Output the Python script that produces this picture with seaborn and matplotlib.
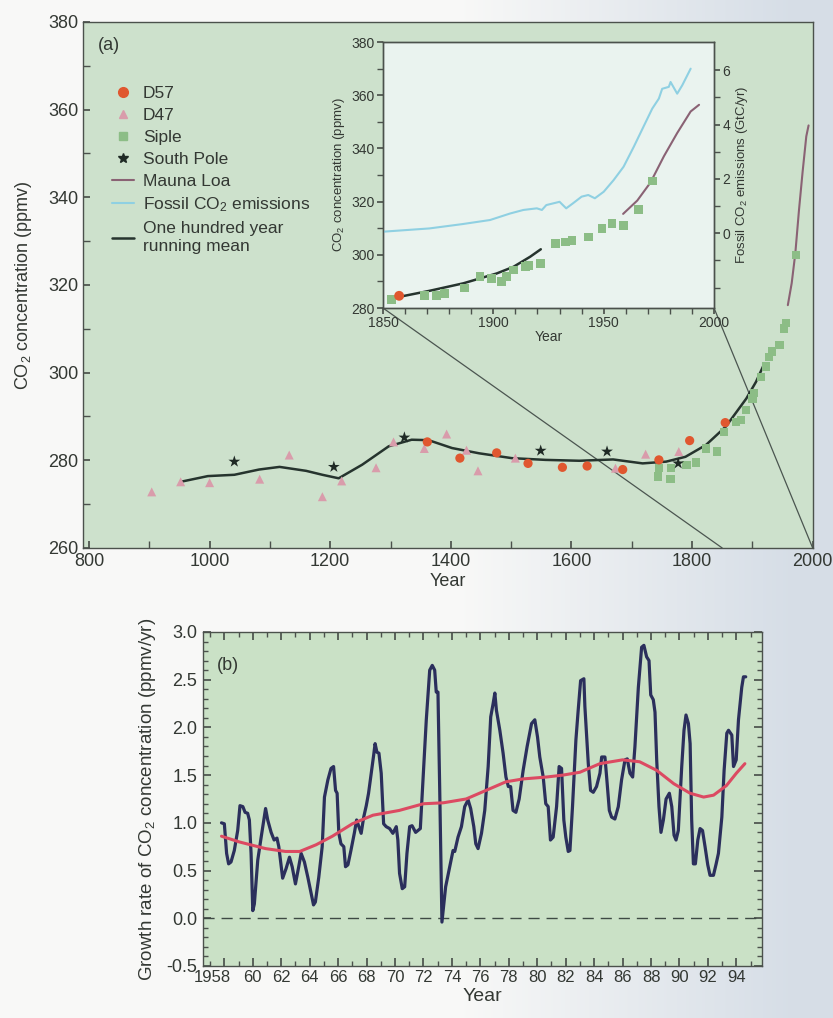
import numpy as np
import matplotlib
matplotlib.use('Agg')
import matplotlib.pyplot as plt
import matplotlib.transforms as mtransforms
from matplotlib.lines import Line2D
from matplotlib.patches import ConnectionPatch
from matplotlib.ticker import MultipleLocator, FixedLocator
import seaborn as sns

sns.set_theme(style="ticks")
plt.rcParams['font.family'] = ['Liberation Sans', 'DejaVu Sans']
plt.rcParams['mathtext.default'] = 'regular'

# ---- panel (a): ice core records ----
d57_year = [1361, 1415, 1476, 1528, 1585, 1626, 1685, 1745, 1796, 1855]
d57_ppm = [284.2, 280.5, 281.7, 279.3, 278.4, 278.7, 277.9, 280.1, 284.5, 288.6]

d47_year = [904, 952, 1000, 1083, 1132, 1187, 1219, 1276, 1305, 1356, 1393,
            1426, 1445, 1507, 1673, 1723, 1778]
d47_ppm = [272.8, 275.1, 274.9, 275.7, 281.2, 271.7, 275.3, 278.3, 284.2, 282.7,
           286.0, 282.3, 277.6, 280.5, 278.2, 281.4, 282.0]

siple_year = [1744, 1745, 1764, 1765, 1791, 1806, 1823, 1841, 1853, 1873, 1881,
              1889, 1900, 1903, 1914, 1923, 1928, 1933, 1945, 1953, 1956, 1972.6]
siple_ppm = [276.3, 278.2, 275.7, 278.2, 278.9, 279.5, 282.7, 282.0, 286.5, 288.8,
             289.2, 291.5, 294.1, 295.3, 299.0, 301.4, 303.6, 304.8, 306.3, 310.1,
             311.3, 326.8]

spole_year = [1041, 1206, 1323, 1549, 1659, 1777]
spole_ppm = [279.7, 278.5, 285.2, 282.2, 282.0, 279.3]

mean_year = [952, 997, 1041, 1082, 1116, 1160, 1187, 1214, 1253, 1297, 1335, 1363,
             1402, 1447, 1501, 1557, 1613, 1669, 1718, 1757, 1789, 1823, 1856,
             1890, 1906, 1920]
mean_ppm = [275.1, 276.4, 276.7, 277.9, 278.5, 277.6, 276.7, 275.9, 279.0, 283.2,
            284.7, 284.6, 282.8, 281.6, 280.5, 280.1, 279.9, 280.2, 279.3, 279.7,
            280.8, 283.5, 287.7, 294.1, 297.9, 302.1]

mlo_year = [1958.8, 1965.2, 1971.2, 1977.3, 1983.3, 1989.4, 1993.2]
mlo_ppm = [315.4, 320.4, 327.2, 337.1, 345.8, 353.9, 356.4]

# ---- inset: 1850-2000 ----
siple_in_year = [1853.8, 1868.9, 1874.2, 1878.0, 1887.1, 1893.9, 1899.2, 1903.8,
                 1905.8, 1909.1, 1914.4, 1915.9, 1921.2, 1928.0, 1932.6, 1935.6,
                 1943.2, 1949.2, 1953.8, 1958.8, 1965.9, 1972.0]
siple_in_ppm = [283.1, 284.6, 284.6, 285.5, 287.5, 292.0, 291.2, 289.9, 291.8,
                294.3, 295.5, 296.1, 296.8, 304.2, 304.8, 305.5, 306.7, 309.8,
                311.7, 311.1, 317.0, 327.8]
d57_in_year = [1857.3]
d57_in_ppm = [284.6]
mean_in_year = [1856.1, 1871.2, 1886.4, 1901.5, 1909.1, 1916.7, 1921.5]
mean_in_ppm = [284.0, 286.5, 289.3, 293.0, 295.5, 299.3, 302.1]

fossil_year = [1850, 1871, 1886, 1898.5, 1907.6, 1913.6, 1919.7, 1922, 1924, 1930,
               1933, 1936, 1940, 1943, 1946, 1950, 1954.5, 1959, 1963.6, 1968,
               1972, 1975, 1976.5, 1979.5, 1980.3, 1983.3, 1985.6, 1989.4]
fossil_gtc = [0.06, 0.18, 0.34, 0.49, 0.73, 0.86, 0.92, 0.86, 1.04, 1.16, 0.92,
              1.10, 1.35, 1.41, 1.29, 1.53, 1.96, 2.45, 3.18, 3.92, 4.59, 4.96,
              5.32, 5.39, 5.57, 5.14, 5.45, 6.06]

# ---- panel (b): growth rate ----
gr_year = [1957.8, 1958.0, 1958.16, 1958.3, 1958.47, 1958.7, 1958.94, 1959.1, 1959.3,
           1959.46, 1959.64, 1959.76, 1959.88, 1960.0, 1960.11, 1960.35, 1960.58,
           1960.9, 1961.05, 1961.29, 1961.5, 1961.7, 1961.83, 1962.1, 1962.34,
           1962.58, 1962.77, 1963.0, 1963.23, 1963.4, 1963.63, 1963.87, 1964.1,
           1964.27, 1964.4, 1964.64, 1964.88, 1965.04, 1965.28, 1965.5, 1965.68,
           1965.82, 1965.93, 1966.05, 1966.2, 1966.4, 1966.52, 1966.69, 1966.9,
           1967.15, 1967.3, 1967.46, 1967.62, 1967.8, 1967.98, 1968.14, 1968.33,
           1968.5, 1968.6, 1968.73, 1968.87, 1969.03, 1969.2, 1969.38, 1969.62,
           1969.85, 1970.09, 1970.2, 1970.32, 1970.51, 1970.68, 1970.84, 1971.03,
           1971.2, 1971.45, 1971.78, 1971.97, 1972.2, 1972.44, 1972.62, 1972.79,
           1972.9, 1973.02, 1973.14, 1973.3, 1973.56, 1973.85, 1974.08, 1974.2,
           1974.43, 1974.67, 1974.9, 1975.14, 1975.32, 1975.54, 1975.68, 1975.84,
           1976.08, 1976.31, 1976.55, 1976.73, 1976.9, 1977.02, 1977.13, 1977.37,
           1977.6, 1977.8, 1977.97, 1978.13, 1978.3, 1978.5, 1978.73, 1979.01,
           1979.29, 1979.6, 1979.83, 1980.02, 1980.18, 1980.42, 1980.6, 1980.77,
           1980.93, 1981.12, 1981.36, 1981.54, 1981.71, 1981.87, 1982.01, 1982.18,
           1982.3, 1982.48, 1982.72, 1982.88, 1983.05, 1983.28, 1983.35, 1983.59,
           1983.75, 1983.94, 1984.17, 1984.41, 1984.53, 1984.76, 1984.88, 1985.07,
           1985.23, 1985.46, 1985.7, 1985.93, 1986.17, 1986.33, 1986.52, 1986.71,
           1986.87, 1987.11, 1987.34, 1987.5, 1987.69, 1987.86, 1987.98, 1988.16,
           1988.28, 1988.4, 1988.56, 1988.7, 1988.87, 1989.06, 1989.29, 1989.46,
           1989.62, 1989.76, 1989.92, 1990.16, 1990.32, 1990.46, 1990.63, 1990.75,
           1990.86, 1990.98, 1991.12, 1991.29, 1991.45, 1991.62, 1991.8, 1991.99,
           1992.15, 1992.39, 1992.58, 1992.74, 1992.98, 1993.14, 1993.33, 1993.45,
           1993.68, 1993.8, 1993.99, 1994.15, 1994.38, 1994.5, 1994.66]
gr_rate = [1.00, 0.99, 0.68, 0.57, 0.59, 0.71, 0.92, 1.18, 1.17, 1.11, 1.10, 1.03,
           0.68, 0.08, 0.15, 0.61, 0.84, 1.15, 1.03, 0.90, 0.82, 0.84, 0.75, 0.42,
           0.52, 0.64, 0.54, 0.36, 0.54, 0.68, 0.59, 0.43, 0.26, 0.14, 0.17, 0.43,
           0.75, 1.27, 1.45, 1.57, 1.59, 1.34, 1.31, 0.89, 0.78, 0.75, 0.54, 0.56,
           0.71, 0.90, 1.03, 0.96, 0.89, 1.06, 1.18, 1.31, 1.52, 1.71, 1.83, 1.74,
           1.73, 1.52, 0.99, 0.96, 0.94, 0.89, 0.96, 0.82, 0.47, 0.31, 0.33, 0.68,
           0.96, 0.97, 0.90, 0.94, 1.45, 2.08, 2.60, 2.65, 2.60, 2.37, 2.37, 1.38,
           -0.04, 0.33, 0.54, 0.71, 0.70, 0.85, 0.96, 1.17, 1.24, 1.15, 0.96, 0.78,
           0.73, 0.89, 1.13, 1.59, 2.11, 2.25, 2.36, 2.18, 1.97, 1.73, 1.48, 1.38,
           1.38, 1.13, 1.11, 1.25, 1.55, 1.80, 2.04, 2.08, 1.90, 1.69, 1.48, 1.20,
           1.17, 0.82, 0.85, 1.17, 1.59, 1.57, 1.03, 0.85, 0.70, 0.71, 1.17, 1.87,
           2.18, 2.49, 2.51, 2.22, 1.62, 1.34, 1.32, 1.38, 1.52, 1.69, 1.69, 1.48,
           1.13, 1.06, 1.04, 1.17, 1.45, 1.66, 1.67, 1.52, 1.48, 1.80, 2.42, 2.84,
           2.86, 2.74, 2.70, 2.34, 2.29, 2.16, 1.66, 1.17, 0.90, 1.03, 1.25, 1.31,
           1.17, 0.87, 0.82, 0.92, 1.59, 1.97, 2.13, 2.04, 1.83, 1.03, 0.57, 0.57,
           0.82, 0.94, 0.92, 0.75, 0.56, 0.45, 0.45, 0.57, 0.68, 1.06, 1.55, 1.94,
           1.97, 1.92, 1.59, 1.66, 2.08, 2.42, 2.53, 2.53]

trend_year = [1957.8, 1959.05, 1960.9, 1962.3, 1963.3, 1964.45, 1965.6, 1967.0,
              1968.45, 1970.3, 1972.0, 1973.4, 1975.0, 1976.4, 1977.8, 1979.0,
              1980.65, 1981.8, 1983.0, 1984.4, 1986.0, 1987.2, 1988.4, 1989.6,
              1990.75, 1991.7, 1992.4, 1993.3, 1994.0, 1994.6]
trend_rate = [0.86, 0.80, 0.73, 0.70, 0.70, 0.77, 0.86, 0.99, 1.08, 1.13, 1.20,
              1.21, 1.25, 1.34, 1.43, 1.46, 1.48, 1.50, 1.53, 1.62, 1.66, 1.64,
              1.55, 1.41, 1.31, 1.27, 1.29, 1.39, 1.52, 1.62]

gr_ticks = list(range(1958, 1995, 2))
gr_ticklabels = ['1958'] + [str(y % 100) for y in gr_ticks[1:]]

# colours
PANEL = '#cde1cc'
PANEL_B = '#cae1c6'
INSET = '#eaf3ef'
SPINE = '#4b514c'
TXT = '#333833'
C_D57 = '#e0572f'
C_D47 = '#d99cab'
C_SIPLE = '#8cbd86'
C_SPOLE = '#1f2a25'
C_MLO = '#8a6274'
C_FOSSIL = '#8fd0e2'
C_MEAN = '#26342e'

fig = plt.figure(figsize=(8.33, 10.18), dpi=100)

# scanned-page style background
bg = fig.add_axes([0, 0, 1, 1], zorder=-10)
gx = np.clip((np.linspace(0, 1, 300) - 0.55) / 0.4, 0, 1)
gy = np.linspace(0, 1, 200)[:, None]
base = np.array([0.975, 0.975, 0.97])
blue = np.array([0.84, 0.87, 0.905])
img = base + (blue - base) * gx[None, :, None] * np.ones_like(gy)[:, :, None]
bg.imshow(img, aspect='auto', extent=[0, 1, 0, 1])
bg.axis('off')


def style_spines(a):
    for s in a.spines.values():
        s.set_color(SPINE)
        s.set_linewidth(1.0)


# ---------------- panel (a) ----------------
ax = fig.add_axes([0.0996, 0.4617, 0.876, 0.5167])
ax.set_facecolor(PANEL)
style_spines(ax)

sns.lineplot(x=mean_year, y=mean_ppm, ax=ax, color=C_MEAN, lw=1.8, estimator=None)
sns.lineplot(x=mlo_year, y=mlo_ppm, ax=ax, color=C_MLO, lw=1.5, estimator=None)
sns.scatterplot(x=siple_year, y=siple_ppm, ax=ax, marker='s', color=C_SIPLE, s=36,
                edgecolor='none', zorder=3)
sns.scatterplot(x=d47_year, y=d47_ppm, ax=ax, marker='^', color=C_D47, s=42,
                edgecolor='none', zorder=3)
sns.scatterplot(x=d57_year, y=d57_ppm, ax=ax, marker='o', color=C_D57, s=44,
                edgecolor='none', zorder=4)
sns.scatterplot(x=spole_year, y=spole_ppm, ax=ax, marker='*', color=C_SPOLE, s=80,
                edgecolor='none', zorder=4)

ax.set_xlim(790, 2000)
ax.set_ylim(260, 380)
ax.xaxis.set_major_locator(MultipleLocator(200))
ax.xaxis.set_minor_locator(MultipleLocator(100))
ax.yaxis.set_major_locator(MultipleLocator(20))
ax.yaxis.set_minor_locator(MultipleLocator(10))
ax.tick_params(which='both', direction='in', colors=SPINE, labelcolor=TXT,
               labelsize=13, length=5)
ax.set_xlabel('Year', fontsize=13, color=TXT, labelpad=2)
ax.set_ylabel('CO$_2$ concentration (ppmv)', fontsize=13, color=TXT, labelpad=10)
ax.text(0.02, 0.955, '(a)', transform=ax.transAxes, fontsize=13, color=TXT,
        va='center')

handles = [
    Line2D([], [], ls='', marker='o', color=C_D57, markersize=7),
    Line2D([], [], ls='', marker='^', color=C_D47, markersize=6),
    Line2D([], [], ls='', marker='s', color=C_SIPLE, markersize=6),
    Line2D([], [], ls='', marker='*', color=C_SPOLE, markersize=7),
    Line2D([], [], color=C_MLO, lw=1.5),
    Line2D([], [], color=C_FOSSIL, lw=1.5),
    Line2D([], [], color=C_MEAN, lw=1.8),
]
labels = ['D57', 'D47', 'Siple', 'South Pole', 'Mauna Loa',
          'Fossil CO$_2$ emissions', 'One hundred year\nrunning mean']
leg = ax.legend(handles, labels, loc='upper left', bbox_to_anchor=(0.03, 0.892),
                frameon=False, fontsize=12.5, handlelength=1.3, handletextpad=0.5,
                labelspacing=0.39, borderaxespad=0)
for t in leg.get_texts():
    t.set_color(TXT)
    t.set_linespacing(1.3)

# ---------------- inset ----------------
axi = fig.add_axes([0.4598, 0.6974, 0.3974, 0.2613])
axi.set_facecolor(INSET)
style_spines(axi)
sns.scatterplot(x=siple_in_year, y=siple_in_ppm, ax=axi, marker='s', color=C_SIPLE,
                s=40, edgecolor='none', zorder=3)
sns.scatterplot(x=d57_in_year, y=d57_in_ppm, ax=axi, marker='o', color=C_D57, s=50,
                edgecolor='none', zorder=4)
sns.lineplot(x=mean_in_year, y=mean_in_ppm, ax=axi, color=C_MEAN, lw=1.8,
             estimator=None)
sns.lineplot(x=mlo_year, y=mlo_ppm, ax=axi, color=C_MLO, lw=1.5, estimator=None)
axi.set_xlim(1850, 2000)
axi.set_ylim(280, 380)
axi.xaxis.set_major_locator(MultipleLocator(50))
axi.xaxis.set_minor_locator(MultipleLocator(10))
axi.yaxis.set_major_locator(MultipleLocator(20))
axi.yaxis.set_minor_locator(MultipleLocator(10))
axi.tick_params(which='both', direction='out', colors=SPINE, labelcolor=TXT,
                labelsize=10, length=4, pad=2)
axi.set_xlabel('Year', fontsize=10, color=TXT, labelpad=0)
axi.set_ylabel('CO$_2$ concentration (ppmv)', fontsize=9.5, color=TXT, labelpad=3)

axr = axi.twinx()
style_spines(axr)
sns.lineplot(x=fossil_year, y=fossil_gtc, ax=axr, color=C_FOSSIL, lw=1.5,
             estimator=None)
axr.set_ylim(-2.75, 7.04)
axr.yaxis.set_major_locator(FixedLocator([0, 2, 4, 6]))
axr.yaxis.set_minor_locator(FixedLocator([-2, -1, 1, 3, 5]))
axr.tick_params(which='both', direction='out', colors=SPINE, labelcolor=TXT,
                labelsize=10, length=4, pad=2)
axr.set_ylabel('Fossil CO$_2$ emissions (GtC/yr)', fontsize=9.5, color=TXT,
               labelpad=3)
axr.grid(False)

# zoom lines from inset to main axis
for yr in (1850, 2000):
    con = ConnectionPatch(xyA=(yr, 280), coordsA=axi.transData,
                          xyB=(yr, 260), coordsB=ax.transData,
                          color='#4b5550', lw=0.9)
    ax.add_artist(con)

# ---------------- panel (b) ----------------
axb = fig.add_axes([0.2437, 0.0511, 0.671, 0.3281])
axb.set_facecolor(PANEL_B)
style_spines(axb)
axb.axhline(0, color='#3e4a44', lw=1.0, dashes=(8, 5))
sns.lineplot(x=gr_year, y=gr_rate, ax=axb, color='#2b2f5c', lw=2.3,
             estimator=None, sort=False)
sns.lineplot(x=trend_year, y=trend_rate, ax=axb, color='#dc4a62', lw=2.2,
             estimator=None)
axb.set_xlim(1956.5, 1995.8)
axb.set_ylim(-0.5, 3.0)
axb.set_xticks(gr_ticks)
axb.set_xticklabels(gr_ticklabels)
axb.xaxis.set_minor_locator(MultipleLocator(1))
axb.yaxis.set_major_locator(MultipleLocator(0.5))
axb.yaxis.set_minor_locator(MultipleLocator(0.1))
axb.yaxis.set_major_formatter(matplotlib.ticker.FormatStrFormatter('%.1f'))
axb.tick_params(which='both', direction='in', top=True, right=True,
                colors=SPINE, labelcolor=TXT)
axb.tick_params(which='major', length=6)
axb.tick_params(which='minor', length=3.5)
axb.tick_params(axis='x', labelsize=12, pad=3)
axb.tick_params(axis='y', labelsize=13, pad=4)
first = axb.get_xticklabels()[0]
first.set_transform(first.get_transform() +
                    mtransforms.ScaledTranslation(-12 / 100, 0, fig.dpi_scale_trans))
axb.set_xlabel('Year', fontsize=14, color=TXT, labelpad=2)
axb.set_ylabel('Growth rate of CO$_2$ concentration (ppmv/yr)', fontsize=13.5,
               color=TXT, labelpad=6)
axb.text(0.025, 0.9, '(b)', transform=axb.transAxes, fontsize=13, color=TXT,
         va='center')

fig.savefig('out.png', dpi=100)
